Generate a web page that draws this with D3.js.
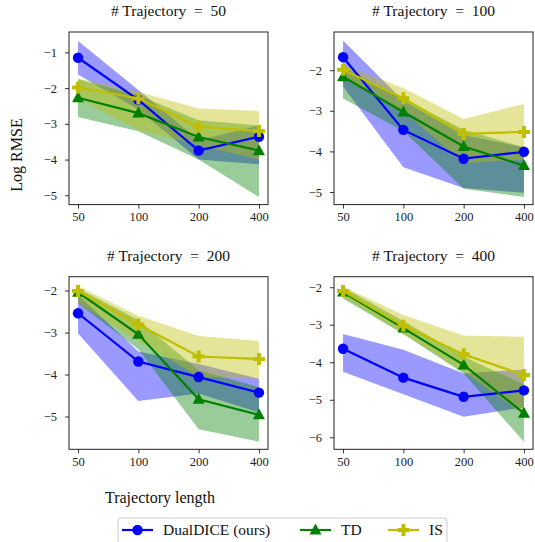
<!DOCTYPE html>
<html>
<head>
<meta charset="utf-8">
<script src="https://d3js.org/d3.v7.min.js"></script>
<style>
  body { margin: 0; background: #fff; }
  svg { font-family: 'Liberation Serif', 'DejaVu Serif', serif; }
  .tick line { stroke: #000; stroke-width: 0.8; }
  .tick text { font-size: 12.5px; fill: #222; font-family: 'Liberation Serif', 'DejaVu Serif', serif; }
</style>
</head>
<body>
<script>
// x categories (trajectory length) and panels (# trajectory)
const lengths = ['50', '100', '200', '400'];
const trajCounts = ['50', '100', '200', '400'];

// one row per panel, values are Log RMSE
const dualMean = [[-1.15, -2.33, -3.75, -3.36], [-1.68, -3.47, -4.18, -4.01], [-2.54, -3.69, -4.06, -4.43], [-3.64, -4.41, -4.92, -4.75]];
const dualHi   = [[-0.68, -2.05, -3.45, -3.05], [-1.27, -2.75, -3.60, -3.90], [-2.10, -3.45, -3.75, -4.10], [-3.25, -3.67, -4.30, -4.20]];
const dualLo   = [[-1.62, -2.60, -4.00, -4.13], [-2.40, -4.39, -4.90, -5.02], [-3.02, -4.63, -4.45, -4.90], [-4.25, -4.85, -5.45, -5.20]];

const tdMean = [[-2.27, -2.70, -3.37, -3.75], [-2.16, -3.03, -3.88, -4.35], [-2.04, -3.04, -4.59, -4.96], [-2.13, -3.09, -4.07, -5.36]];
const tdHi   = [[-1.75, -2.20, -2.90, -3.05], [-1.92, -2.70, -3.47, -3.90], [-1.95, -2.70, -3.90, -4.30], [-2.00, -2.90, -3.85, -4.60]];
const tdLo   = [[-2.81, -3.21, -4.00, -5.05], [-2.70, -3.50, -4.92, -5.12], [-2.30, -3.40, -5.30, -5.60], [-2.30, -3.25, -4.30, -6.12]];

const isMean = [[-1.98, -2.29, -3.08, -3.20], [-1.99, -2.69, -3.57, -3.52], [-2.01, -2.81, -3.57, -3.63], [-2.10, -3.03, -3.79, -4.34]];
const isHi   = [[-1.73, -2.10, -2.57, -2.64], [-1.87, -2.44, -3.20, -2.83], [-1.90, -2.60, -3.08, -3.20], [-1.98, -2.74, -3.29, -3.32]];
const isLo   = [[-2.30, -3.17, -3.60, -4.00], [-2.20, -3.00, -4.29, -4.20], [-2.30, -3.20, -4.05, -4.10], [-2.25, -3.25, -4.25, -5.40]];

const yLims  = [[-5.26, -0.43], [-5.31, -1.06], [-5.78, -1.67], [-6.32, -1.72]];
const yTicks = [[-5, -4, -3, -2, -1], [-5, -4, -3, -2], [-5, -4, -3, -2], [-6, -5, -4, -3, -2]];

const seriesNames = ['DualDICE (ours)', 'TD', 'IS'];
const colors = ['#0000ff', '#008000', '#bfbf00'];
const markers = ['circle', 'triangle', 'plus'];

const W = 535, H = 542;
const svg = d3.select('body').append('svg').attr('width', W).attr('height', H);

const boxW = 199, boxH = 172.6;
const lefts = [69, 334, 69, 334];
const tops = [32, 32, 276.7, 276.7];

const series = [
  {mean: dualMean, lo: dualLo, hi: dualHi},
  {mean: tdMean, lo: tdLo, hi: tdHi},
  {mean: isMean, lo: isLo, hi: isHi}
];

function drawMarker(sel, kind, color) {
  if (kind === 'circle') {
    sel.append('circle').attr('r', 5.2).attr('fill', color);
  } else if (kind === 'triangle') {
    sel.append('path').attr('d', 'M0,-6.5L6,4.5L-6,4.5Z').attr('fill', color);
  } else {
    sel.append('path')
      .attr('d', 'M-2,-6H2V-2H6V2H2V6H-2V2H-6V-2H-2Z')
      .attr('fill', color);
  }
}

trajCounts.forEach((tc, p) => {
  const g = svg.append('g').attr('transform', `translate(${lefts[p]},${tops[p]})`);
  const x = d3.scaleLinear().domain([-0.15, 3.15]).range([0, boxW]);
  const y = d3.scaleLinear().domain(yLims[p]).range([boxH, 0]);

  const area = d3.area().x((d, i) => x(i)).y0(d => y(d[0])).y1(d => y(d[1]));
  const line = d3.line().x((d, i) => x(i)).y(d => y(d));

  series.forEach((s, k) => {
    const band = s.lo[p].map((v, i) => [v, s.hi[p][i]]);
    g.append('path').datum(band).attr('d', area)
      .attr('fill', colors[k]).attr('fill-opacity', 0.4);
  });

  series.forEach((s, k) => {
    g.append('path').datum(s.mean[p]).attr('d', line)
      .attr('fill', 'none').attr('stroke', colors[k]).attr('stroke-width', 2.2);
    s.mean[p].forEach((v, i) => {
      const m = g.append('g').attr('transform', `translate(${x(i)},${y(v)})`);
      drawMarker(m, markers[k], colors[k]);
    });
  });

  g.append('rect').attr('width', boxW).attr('height', boxH)
    .attr('fill', 'none').attr('stroke', '#222').attr('stroke-width', 1);

  g.append('g').attr('transform', `translate(0,${boxH})`)
    .call(d3.axisBottom(x).tickValues([0, 1, 2, 3]).tickFormat(i => lengths[i]).tickSize(4).tickPadding(4))
    .call(a => a.select('.domain').remove());

  g.append('g')
    .call(d3.axisLeft(y).tickValues(yTicks[p]).tickFormat(d3.format('d')).tickSize(4).tickPadding(8))
    .call(a => a.select('.domain').remove());

  g.append('text').attr('x', boxW / 2).attr('y', -16)
    .attr('text-anchor', 'middle').attr('font-size', 15.5).attr('fill', '#111')
    .text('# Trajectory\u2002=\u2002' + tc);
});

svg.append('text')
  .attr('transform', 'translate(22,155) rotate(-90)')
  .attr('text-anchor', 'middle').attr('font-size', 16).attr('fill', '#111')
  .text('Log RMSE');

svg.append('text').attr('x', 160).attr('y', 503)
  .attr('text-anchor', 'middle').attr('font-size', 16).attr('fill', '#111')
  .text('Trajectory length');

const legend = svg.append('g').attr('transform', 'translate(118,518)');
legend.append('rect').attr('width', 329).attr('height', 30).attr('rx', 3)
  .attr('fill', '#fff').attr('stroke', '#ccc').attr('stroke-width', 1);
const legX = [4, 182, 270];
seriesNames.forEach((name, k) => {
  const it = legend.append('g').attr('transform', `translate(${legX[k]},12)`);
  it.append('line').attr('x1', 0).attr('x2', 31).attr('stroke', colors[k]).attr('stroke-width', 2.2);
  const m = it.append('g').attr('transform', 'translate(15.5,0)');
  drawMarker(m, markers[k], colors[k]);
  it.append('text').attr('x', 41).attr('y', 5).attr('font-size', 15.5).attr('fill', '#111').text(name);
});
</script>
</body>
</html>
